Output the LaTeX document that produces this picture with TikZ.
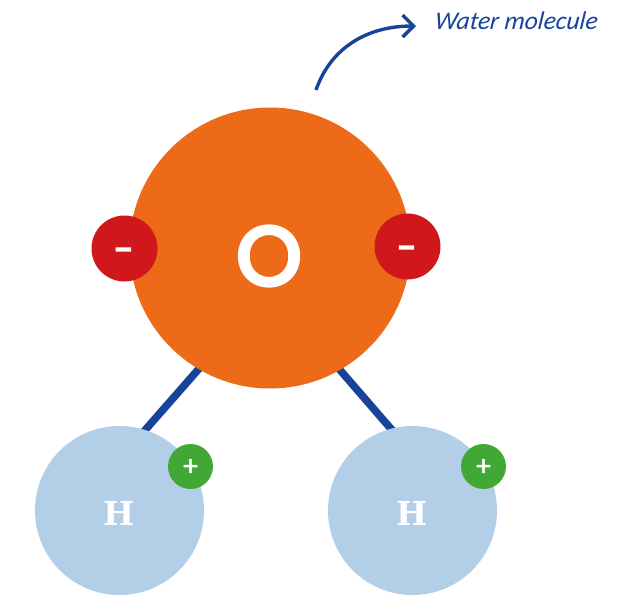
\documentclass[tikz,border=0pt]{standalone}
\usepackage{fontspec}
\setmainfont{Poppins}
\newfontfamily\symfont{Poppins}[FakeBold=2.5]
\newfontfamily\heavyfont{Poppins}[FakeBold=5]
\newfontfamily\slabfont{DejaVu Serif}
\newfontfamily\handfont{Carlito}[FakeSlant=0.12]
\usetikzlibrary{arrows.meta}
\definecolor{oxy}{HTML}{EC6A18}
\definecolor{neg}{HTML}{D0181C}
\definecolor{hyd}{HTML}{B3CEE7}
\definecolor{pos}{HTML}{41A735}
\definecolor{bond}{HTML}{17449A}
\tikzset{atom/.style={circle,inner sep=0pt,text=white},
bondline/.style={draw=bond,line width=7.6pt},
signtext/.style={text=white,inner sep=0pt}}
\begin{document}
\begin{tikzpicture}[x=1pt,y=-1pt]
\useasboundingbox (0,0) rectangle (625,595);
\fill[white] (0,0) rectangle (625,595);
\coordinate (b1a) at (211,355);
\coordinate (b1b) at (132,445);
\coordinate (b2a) at (327,355);
\coordinate (b2b) at (405,445);
\draw[bondline] (b1a) -- (b1b);
\draw[bondline] (b2a) -- (b2b);
\begin{scope}
\clip (0,0) rectangle (625,595);
\node[atom,fill=hyd,minimum size=169pt] (h1) at (119.5,510.5) {};
\node[atom,fill=hyd,minimum size=169pt] (h2) at (412.5,510.5) {};
\end{scope}
\node[atom,fill=oxy,minimum size=281pt] (o) at (270,248) {};
\node[text=white,inner sep=0pt,font=\heavyfont\fontsize{83}{83}\selectfont] (ol) at (269,256) {O};
\node[text=white,inner sep=0pt,font=\slabfont\fontsize{33}{33}\selectfont\bfseries] (h1l) at (119.5,513) {H};
\node[text=white,inner sep=0pt,font=\slabfont\fontsize{33}{33}\selectfont\bfseries] (h2l) at (412.5,513) {H};
\node[atom,fill=neg,minimum size=66pt] (n1) at (124.5,248.5) {};
\node[atom,fill=neg,minimum size=66pt] (n2) at (407.5,246.5) {};
\node[signtext,font=\heavyfont\fontsize{34}{34}\selectfont] (m1) at (124,255) {-};
\node[signtext,font=\heavyfont\fontsize{34}{34}\selectfont] (m2) at (407,253) {-};
\node[atom,fill=pos,minimum size=45pt] (p1) at (190.5,466.5) {};
\node[atom,fill=pos,minimum size=45pt] (p2) at (483.5,466.5) {};
\node[signtext,font=\symfont\fontsize{26}{26}\selectfont] (q1) at (190.5,467.5) {+};
\node[signtext,font=\symfont\fontsize{26}{26}\selectfont] (q2) at (483.5,467.5) {+};
\coordinate (s) at (316,90);
\node[text=bond,font=\handfont\itshape\fontsize{25.5}{25.5}\selectfont,anchor=west,inner sep=0pt] (w) at (434,21) {Water molecule};
\coordinate (e) at (416,26);
\draw[bond,line width=3.4pt,-{Straight Barb[length=11pt,width=22pt,line width=3.4pt]}] (s) .. controls (331,47) and (368,26) .. (e);
\end{tikzpicture}
\end{document}
